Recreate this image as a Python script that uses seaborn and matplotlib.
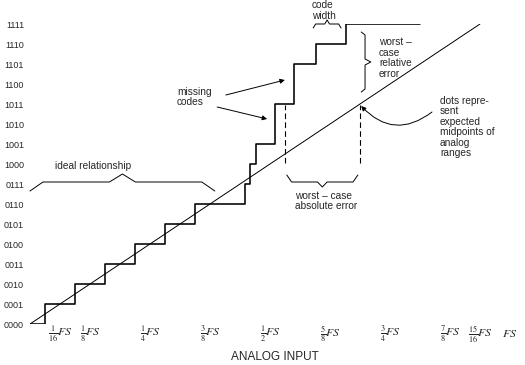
import matplotlib
matplotlib.use("Agg")
import matplotlib.pyplot as plt
import seaborn as sns

# measured transfer curve of the converter (input in FS units, output code)
step_edges = [0, 1/32, 3/32, 5/32, 7/32, 9/32, 11/32, 0.448, 0.459, 0.470, 0.510, 0.551, 0.596, 0.658, 0.8125]
step_codes = [0, 1, 2, 3, 4, 5, 6, 7, 8, 9, 11, 13, 14, 15, 15]

# ideal straight-line relationship
ideal_x = [0, 15/16]
ideal_code = [0, 15]

# dashed markers for the worst-case absolute error
err_x = [0.531, 0.6875]
err_top = [10.95, 10.95]
err_bottom = [8.05, 8.05]

code_ticks = list(range(16))
code_labels = ['0000', '0001', '0010', '0011', '0100', '0101', '0110', '0111',
               '1000', '1001', '1010', '1011', '1100', '1101', '1110', '1111']

input_ticks = [1/16, 1/8, 1/4, 3/8, 1/2, 5/8, 3/4, 7/8, 15/16, 1]
input_labels = [r'$\frac{1}{16}FS$', r'$\frac{1}{8}FS$', r'$\frac{1}{4}FS$', r'$\frac{3}{8}FS$',
                r'$\frac{1}{2}FS$', r'$\frac{5}{8}FS$', r'$\frac{3}{4}FS$', r'$\frac{7}{8}FS$',
                r'$\frac{15}{16}FS$', r'$FS$']

sns.set_style('white')
plt.rcParams['font.family'] = ['Liberation Sans', 'DejaVu Sans']
plt.rcParams['mathtext.fontset'] = 'stix'


def hbrace(ax, x0, x1, y, tip, lip, dx):
    xm = (x0 + x1) / 2
    xs = [x0, x0 + dx, xm - dx, xm, xm + dx, x1 - dx, x1]
    ys = [y + lip, y, y, y + tip, y, y, y + lip]
    ax.plot(xs, ys, color='black', lw=0.7, clip_on=False)


def vbrace(ax, y0, y1, x, tip, lip, dy):
    ym = (y0 + y1) / 2
    ys = [y0, y0 + dy, ym - dy, ym, ym + dy, y1 - dy, y1]
    xs = [x + lip, x, x, x + tip, x, x, x + lip]
    ax.plot(xs, ys, color='black', lw=0.7, clip_on=False)


fig = plt.figure(figsize=(5.25, 3.65), dpi=100)
ax = fig.add_axes([30/525, 41/365, 480/525, 300/365])

sns.lineplot(x=step_edges, y=step_codes, drawstyle='steps-post', estimator=None, sort=False,
             color='black', lw=1.15, ax=ax)
sns.lineplot(x=ideal_x, y=ideal_code, estimator=None, sort=False, color='black', lw=0.7, ax=ax)
ax.vlines(err_x, err_bottom, err_top, colors='black', lw=0.8, linestyles=(0, (5, 3)))

ax.set_xlim(0, 1)
ax.set_ylim(0, 15)
ax.set_yticks(code_ticks, labels=code_labels, fontsize=6.5)
ax.set_xticks(input_ticks, labels=input_labels, fontsize=8.5)
for lab in ax.get_xticklabels():
    lab.set_verticalalignment('center')
ax.tick_params(axis='y', length=0, pad=4.3)
ax.tick_params(axis='x', length=0, pad=7.2)
sns.despine(ax=ax, left=True, bottom=True)
ax.set_xlabel('ANALOG INPUT', fontsize=8.5, va='center')
ax.xaxis.set_label_coords(0.510, -0.11)

# braces
hbrace(ax, 0.0, 0.385, 7.1, 0.4, -0.45, 0.027)
hbrace(ax, 0.535, 0.683, 7.1, -0.25, 0.35, 0.01)
hbrace(ax, 0.590, 0.648, 15.0, 0.2, -0.2, 0.005)
vbrace(ax, 11.6, 14.6, 0.698, 0.012, -0.008, 0.15)

txt = dict(fontsize=7.3, va='center', ha='left', linespacing=1.05)
ax.text(0.052, 7.9, 'ideal relationship', **txt)
ax.text(0.306, 11.35, 'missing\ncodes', **txt)
ax.text(0.5875, 15.67, 'code\nwidth', **txt)
ax.text(0.552, 6.15, 'worst – case\nabsolute error', **txt)
ax.text(0.727, 13.3, 'worst –\ncase\nrelative\nerror', **txt)
ax.text(0.854, 9.85, 'dots repre-\nsent\nexpected\nmidpoints of\nanalog\nranges', **txt)

arrow = dict(arrowstyle='-|>', lw=0.7, color='black', mutation_scale=7, shrinkA=0, shrinkB=0)
ax.annotate('', xy=(0.531, 12.2), xytext=(0.408, 11.45), arrowprops=arrow)
ax.annotate('', xy=(0.494, 10.25), xytext=(0.390, 10.85), arrowprops=arrow)
ax.annotate('', xy=(0.690, 10.9), xytext=(0.8375, 10.6),
            arrowprops=dict(arrow, connectionstyle='arc3,rad=-0.45'))

fig.savefig('out.png', dpi=100)
